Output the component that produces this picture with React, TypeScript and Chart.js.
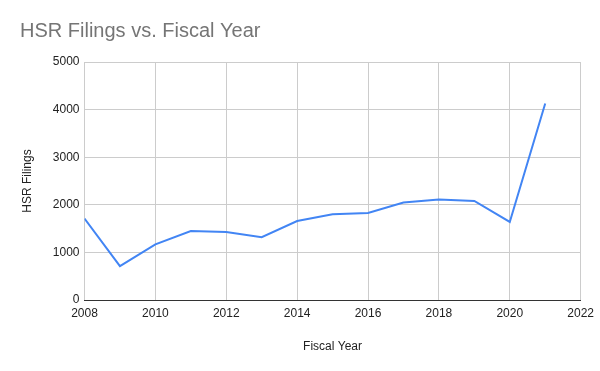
import React, { useEffect, useRef } from "react";
import { Chart, registerables } from "chart.js";

Chart.register(...registerables);

const years = [2008, 2009, 2010, 2011, 2012, 2013, 2014, 2015, 2016, 2017, 2018, 2019, 2020, 2021];
const filings = [1710, 710, 1170, 1450, 1430, 1320, 1660, 1800, 1830, 2050, 2110, 2080, 1640, 4130];
const xTicks = [2008, 2010, 2012, 2014, 2016, 2018, 2020, 2022];
const yTicks = [0, 1000, 2000, 3000, 4000, 5000];

const FONT = "'Liberation Sans', Arial, sans-serif";

export default function App() {
  const ref = useRef<HTMLCanvasElement | null>(null);
  useEffect(() => {
    document.body.style.margin = "0";
    const ctx = ref.current!.getContext("2d")!;
    const chart = new Chart(ctx, {
      type: "line",
      data: {
        datasets: [
          {
            data: years.map((y, i) => ({ x: y, y: filings[i] })),
            borderColor: "#4285F4",
            borderWidth: 2,
            pointRadius: 0,
            tension: 0,
            fill: false,
          },
        ],
      },
      options: {
        responsive: false,
        animation: false,
        layout: { padding: { left: 20, right: 18, top: 0, bottom: 17 } },
        plugins: {
          legend: { display: false },
          tooltip: { enabled: false },
          title: {
            display: true,
            text: "HSR Filings vs. Fiscal Year",
            align: "start",
            color: "#757575",
            font: { family: FONT, size: 20, weight: "normal" },
            padding: { top: 19, bottom: 19 },
          },
        },
        scales: {
          x: {
            type: "linear",
            min: 2008,
            max: 2022,
            afterBuildTicks: (s: any) => {
              s.ticks = xTicks.map((v) => ({ value: v }));
            },
            afterFit: (s: any) => {
              s.height = 54;
            },
            ticks: {
              color: "#222",
              font: { family: FONT, size: 12 },
              padding: 6,
              maxRotation: 0,
              callback: (v: any) => String(v),
            },
            grid: { color: "#cccccc", drawTicks: false },
            border: { color: "#333333", width: 1 },
            title: {
              display: true,
              text: "Fiscal Year",
              color: "#222",
              font: { family: FONT, size: 12 },
              padding: { top: 4, bottom: 0 },
            },
          },
          y: {
            min: 0,
            max: 5000,
            afterBuildTicks: (s: any) => {
              s.ticks = yTicks.map((v) => ({ value: v }));
            },
            afterFit: (s: any) => {
              s.width = 64.5;
            },
            ticks: {
              color: "#222",
              font: { family: FONT, size: 12 },
              padding: 5,
              callback: (v: any) => String(v),
            },
            grid: { color: "#cccccc", drawTicks: false },
            border: { display: false },
            title: {
              display: true,
              text: "HSR Filings",
              color: "#222",
              font: { family: FONT, size: 12 },
              padding: 0,
            },
          },
        },
      },
    });
    return () => chart.destroy();
  }, []);
  return <canvas ref={ref} width={600} height={371} style={{ display: "block" }} />;
}
